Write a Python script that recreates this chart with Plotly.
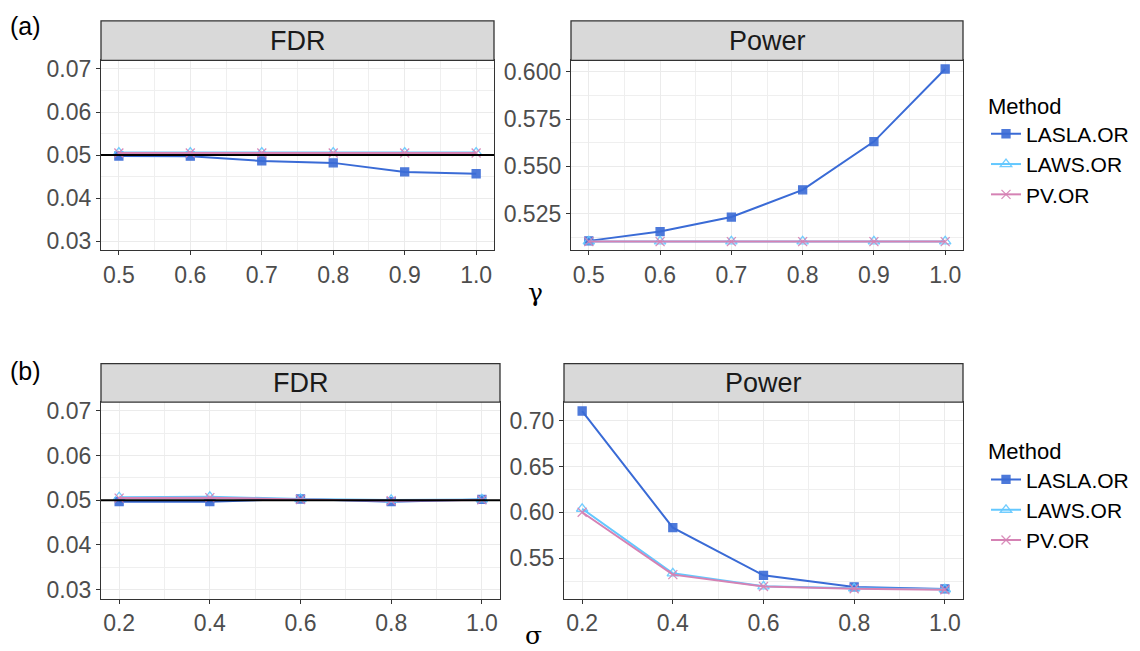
import plotly.graph_objects as go

W, H = 1140, 651

# ---------------- data ----------------
gamma = [0.5, 0.6, 0.7, 0.8, 0.9, 1.0]
sigma = [0.2, 0.4, 0.6, 0.8, 1.0]

fdr_a_lasla = [0.0498, 0.04975, 0.04865, 0.0482, 0.0461, 0.04568]
fdr_a_laws = [0.0506, 0.0506, 0.0506, 0.0506, 0.0506, 0.0506]
fdr_a_pv = [0.0505, 0.0505, 0.0505, 0.0505, 0.0505, 0.0505]

pow_a_lasla = [0.5106, 0.5155, 0.5232, 0.5376, 0.5631, 0.6015]
pow_a_laws = [0.5103, 0.5103, 0.5103, 0.5103, 0.5103, 0.5103]
pow_a_pv = [0.5102, 0.5102, 0.5102, 0.5102, 0.5102, 0.5102]

fdr_b_lasla = [0.0497, 0.0497, 0.0503, 0.0497, 0.0502]
fdr_b_laws = [0.0507, 0.0508, 0.0503, 0.0501, 0.0502]
fdr_b_pv = [0.0505, 0.0506, 0.0502, 0.0499, 0.0501]

pow_b_lasla = [0.7108, 0.5833, 0.5312, 0.5186, 0.5164]
pow_b_laws = [0.6040, 0.5334, 0.5192, 0.5170, 0.5160]
pow_b_pv = [0.6002, 0.5320, 0.5190, 0.5165, 0.5155]

methods = ["LASLA.OR", "LAWS.OR", "PV.OR"]
colors = ["#3A6BD6", "#63C8FF", "#D582B4"]
symbols = ["square", "triangle-up-open", "x-thin-open"]
msizes = [8, 10, 9]

target_fdr = 0.05

# ---------------- helpers ----------------
def px_x(x):
    return x / W

def px_y(y):
    return 1 - y / H

fig = go.Figure()

panels = {
    1: dict(x=(101, 494), y=(57, 249)),
    2: dict(x=(571, 963), y=(57, 249)),
    3: dict(x=(101, 500), y=(403, 602)),
    4: dict(x=(564, 963), y=(403, 602)),
}

series = {
    1: (gamma, [fdr_a_lasla, fdr_a_laws, fdr_a_pv], "legend"),
    2: (gamma, [pow_a_lasla, pow_a_laws, pow_a_pv], "legend"),
    3: (sigma, [fdr_b_lasla, fdr_b_laws, fdr_b_pv], "legend2"),
    4: (sigma, [pow_b_lasla, pow_b_laws, pow_b_pv], "legend2"),
}

for k, (xs, ys_list, leg) in series.items():
    xa = "x" if k == 1 else f"x{k}"
    ya = "y" if k == 1 else f"y{k}"
    for i, ys in enumerate(ys_list):
        fig.add_trace(go.Scatter(
            x=xs, y=ys, mode="lines+markers", name=methods[i],
            line=dict(color=colors[i], width=2),
            marker=dict(symbol=symbols[i], size=msizes[i], color=colors[i],
                        line=dict(color=colors[i], width=1.3), opacity=0.9),
            xaxis=xa, yaxis=ya, legend=leg,
            showlegend=(k in (1, 3)),
        ))

grid_major = "#EBEBEB"
grid_minor = "#EFEFEF"
tickfont = dict(family="Liberation Sans, Arial", size=23, color="#4D4D4D")

axis_common = dict(
    showgrid=True, gridcolor=grid_major, gridwidth=1.4,
    showline=True, linecolor="#333333", linewidth=1.3, mirror=True,
    ticks="outside", ticklen=4, tickcolor="#333333", tickwidth=1.1,
    tickfont=tickfont, zeroline=False,
)

mn = dict(showgrid=True, gridcolor=grid_minor, gridwidth=0.8)

xcfg = {
    1: dict(range=[0.475, 1.025], tick0=0.5, dtick=0.1, tickformat=".1f",
            minor=dict(mn, tick0=0.55, dtick=0.1)),
    3: dict(range=[0.16, 1.04], tick0=0.2, dtick=0.2, tickformat=".1f",
            minor=dict(mn, tick0=0.3, dtick=0.2)),
}
xcfg[2] = xcfg[1]
xcfg[4] = xcfg[3]

ycfg = {
    1: dict(range=[0.028, 0.072], tick0=0.03, dtick=0.01, tickformat=".2f",
            minor=dict(mn, tick0=0.035, dtick=0.01)),
    2: dict(range=[0.5058, 0.6061], tick0=0.525, dtick=0.025, tickformat=".3f",
            minor=dict(mn, tick0=0.5125, dtick=0.025)),
    3: dict(range=[0.028, 0.072], tick0=0.03, dtick=0.01, tickformat=".2f",
            minor=dict(mn, tick0=0.035, dtick=0.01)),
    4: dict(range=[0.5058, 0.7206], tick0=0.55, dtick=0.05, tickformat=".2f",
            minor=dict(mn, tick0=0.525, dtick=0.05)),
}

layout_axes = {}
for k, p in panels.items():
    xname = "xaxis" if k == 1 else f"xaxis{k}"
    yname = "yaxis" if k == 1 else f"yaxis{k}"
    xa = "x" if k == 1 else f"x{k}"
    ya = "y" if k == 1 else f"y{k}"
    layout_axes[xname] = dict(axis_common, domain=[px_x(p["x"][0]), px_x(p["x"][1])],
                              anchor=ya, tickmode="linear", **xcfg[k])
    layout_axes[yname] = dict(axis_common, domain=[px_y(p["y"][1]), px_y(p["y"][0])],
                              anchor=xa, tickmode="linear", **ycfg[k])

fig.update_layout(**layout_axes)

shapes = []
annotations = []
strips = {1: ("FDR", 17), 2: ("Power", 17), 3: ("FDR", 364), 4: ("Power", 364)}
for k, (label, top) in strips.items():
    p = panels[k]
    shapes.append(dict(type="rect", xref="paper", yref="paper",
                       x0=px_x(p["x"][0]), x1=px_x(p["x"][1]),
                       y0=px_y(p["y"][0]), y1=px_y(top),
                       fillcolor="#D9D9D9", line=dict(color="#333333", width=1.3),
                       layer="above"))
    annotations.append(dict(text=label, xref="paper", yref="paper",
                            x=(px_x(p["x"][0]) + px_x(p["x"][1])) / 2,
                            y=(px_y(p["y"][0]) + px_y(top)) / 2,
                            showarrow=False, xanchor="center", yanchor="middle",
                            font=dict(family="Liberation Sans, Arial", size=27, color="#1A1A1A")))

for k in (1, 3):
    xa = "x" if k == 1 else f"x{k}"
    ya = "y" if k == 1 else f"y{k}"
    shapes.append(dict(type="line", xref=f"{xa} domain", yref=ya, x0=0, x1=1,
                       y0=target_fdr, y1=target_fdr, line=dict(color="black", width=2),
                       layer="above"))

annotations += [
    dict(text="(a)", xref="paper", yref="paper", x=px_x(8), y=px_y(22),
         showarrow=False, xanchor="left", yanchor="middle",
         font=dict(family="Liberation Sans, Arial", size=25, color="black")),
    dict(text="(b)", xref="paper", yref="paper", x=px_x(8), y=px_y(372),
         showarrow=False, xanchor="left", yanchor="middle",
         font=dict(family="Liberation Sans, Arial", size=25, color="black")),
    dict(text="γ", xref="paper", yref="paper", x=px_x(535), y=px_y(292),
         showarrow=False, xanchor="center", yanchor="middle",
         font=dict(family="DejaVu Serif, serif", size=25, color="black")),
    dict(text="σ", xref="paper", yref="paper", x=px_x(533), y=px_y(639),
         showarrow=False, xanchor="center", yanchor="middle",
         font=dict(family="DejaVu Serif, serif", size=25, color="black")),
]

legend_common = dict(
    xanchor="left", yanchor="top", bgcolor="rgba(0,0,0,0)",
    font=dict(family="Liberation Sans, Arial", size=21, color="black"),
    title=dict(text="Method", font=dict(family="Liberation Sans, Arial", size=22, color="black")),
    tracegroupgap=0, itemwidth=30,
)

fig.update_layout(
    width=W, height=H,
    margin=dict(l=0, r=0, t=0, b=0),
    paper_bgcolor="white", plot_bgcolor="white",
    shapes=shapes, annotations=annotations,
    legend=dict(legend_common, x=px_x(986), y=px_y(82)),
    legend2=dict(legend_common, x=px_x(986), y=px_y(432)),
)

fig.write_html("out.html")
